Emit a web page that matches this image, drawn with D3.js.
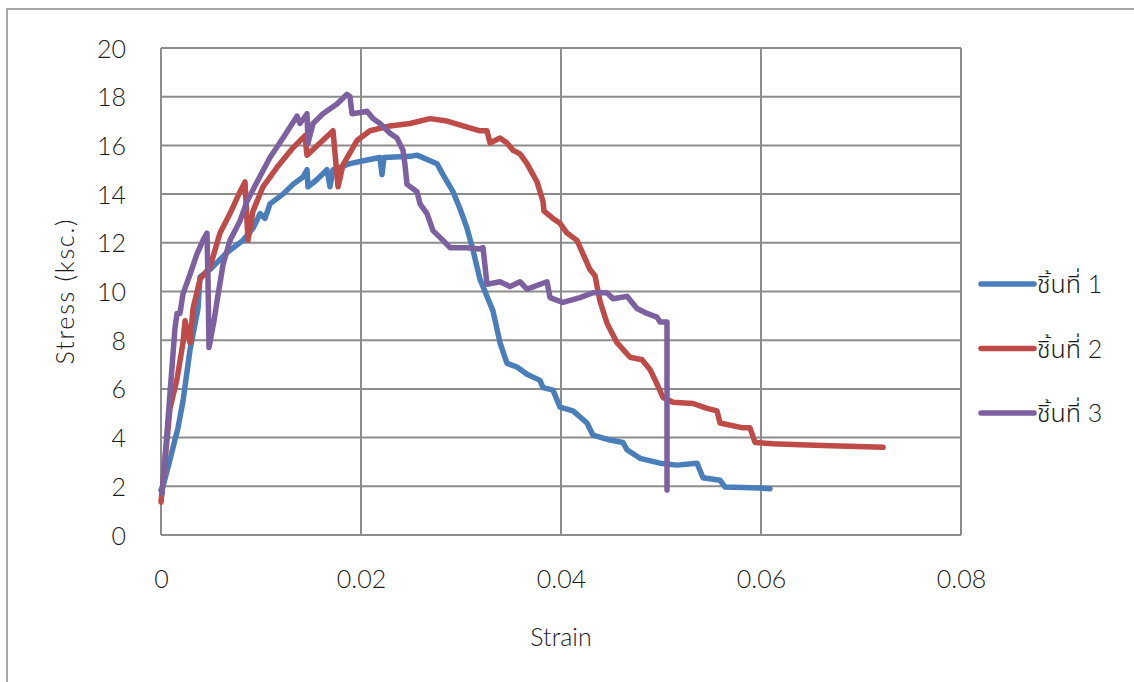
<!DOCTYPE html>
<html>
<head>
<meta charset="utf-8">
<script src="https://cdn.jsdelivr.net/npm/d3@7/dist/d3.min.js"></script>
<style>
  html, body { margin: 0; padding: 0; background: #fff; }
  svg { display: block; }
  text { font-family: "Lato", "Noto Sans Thai", "Noto Sans", sans-serif; font-weight: 300; fill: #1a1a1a; }
</style>
</head>
<body>
<svg id="chart" width="1134" height="682"></svg>
<script>
// Stress–strain curves for three specimens (strain, stress in ksc.)
const series1Strain = [0,0.0002,0.0009,0.0017,0.0022,0.0029,0.0037,0.0039,0.0049,0.0066,0.0082,0.0092,0.0099,0.0104,0.0109,0.0122,0.0132,0.0142,0.0146,0.0147,0.0156,0.0166,0.0169,0.0172,0.0189,0.0206,0.0219,0.0221,0.0223,0.0249,0.0256,0.0276,0.0282,0.0292,0.0299,0.0306,0.0312,0.0319,0.0322,0.0332,0.0339,0.0346,0.0356,0.0366,0.0379,0.0382,0.0392,0.0399,0.0412,0.0426,0.0432,0.0449,0.0462,0.0466,0.0479,0.0499,0.0516,0.0536,0.0542,0.0559,0.0564,0.0599,0.0609];
const series1Stress = [1.85,2.0,3.1,4.4,5.5,7.6,9.3,10.6,10.9,11.6,12.1,12.6,13.2,13.0,13.6,14.0,14.4,14.7,15.0,14.3,14.6,15.0,14.3,15.0,15.25,15.4,15.5,14.8,15.5,15.55,15.6,15.25,14.8,14.1,13.4,12.6,11.7,10.5,10.2,9.2,7.9,7.05,6.9,6.6,6.35,6.05,5.95,5.25,5.1,4.6,4.1,3.9,3.8,3.5,3.15,2.95,2.87,2.95,2.35,2.25,1.97,1.93,1.9];

const series2Strain = [0,0.0009,0.0016,0.0022,0.0024,0.0029,0.0032,0.0039,0.0049,0.0059,0.0069,0.0079,0.0084,0.0087,0.0092,0.0102,0.0116,0.0132,0.0144,0.0146,0.0159,0.0172,0.0177,0.0182,0.0196,0.0209,0.0229,0.0249,0.0269,0.0286,0.0302,0.0319,0.0326,0.0329,0.0339,0.0346,0.0352,0.0359,0.0366,0.0376,0.0382,0.0383,0.0392,0.0399,0.0406,0.0416,0.0422,0.0429,0.0434,0.0439,0.0446,0.0456,0.0469,0.0481,0.0489,0.0496,0.0502,0.0512,0.0532,0.0546,0.0556,0.0559,0.0582,0.0589,0.0594,0.0612,0.0646,0.0679,0.0722];
const series2Stress = [1.35,5.2,6.4,7.9,8.8,7.9,9.3,10.5,11.0,12.4,13.2,14.1,14.5,12.1,13.3,14.3,15.1,15.9,16.4,15.6,16.1,16.6,14.3,15.2,16.2,16.6,16.8,16.9,17.1,17.0,16.8,16.6,16.6,16.1,16.3,16.1,15.8,15.65,15.25,14.5,13.7,13.3,13.0,12.8,12.4,12.1,11.55,10.9,10.65,9.6,8.7,7.9,7.3,7.2,6.8,6.2,5.65,5.45,5.4,5.2,5.1,4.6,4.4,4.4,3.8,3.75,3.7,3.65,3.6];

const series3Strain = [0.0001,0.0006,0.0011,0.0014,0.0016,0.0019,0.0022,0.0029,0.0036,0.0042,0.0046,0.0047,0.0048,0.0053,0.0056,0.0062,0.0069,0.0079,0.0086,0.0096,0.0109,0.0122,0.0136,0.0139,0.0146,0.0147,0.0152,0.0162,0.0176,0.0186,0.0189,0.0191,0.0199,0.0206,0.0212,0.0219,0.0229,0.0236,0.0242,0.0244,0.0246,0.0256,0.0259,0.0266,0.0272,0.0282,0.0289,0.0306,0.0319,0.0322,0.0326,0.0339,0.0349,0.0359,0.0366,0.0386,0.0389,0.0402,0.0419,0.0432,0.0446,0.0452,0.0466,0.0476,0.0486,0.0496,0.0499,0.0506,0.0506];
const series3Stress = [1.7,4.2,6.9,8.5,9.1,9.1,9.9,10.7,11.55,12.1,12.4,10.5,7.7,8.8,9.6,11.1,12.1,12.9,13.7,14.5,15.5,16.3,17.2,16.9,17.3,16.1,16.9,17.3,17.7,18.1,18.0,17.3,17.35,17.4,17.1,16.9,16.5,16.3,15.8,15.2,14.4,14.1,13.6,13.2,12.5,12.1,11.8,11.8,11.75,11.8,10.3,10.4,10.2,10.4,10.1,10.4,9.75,9.55,9.75,9.95,9.95,9.7,9.8,9.3,9.1,8.95,8.75,8.75,1.85];

const seriesNames = ["ชิ้นที่ 1", "ชิ้นที่ 2", "ชิ้นที่ 3"];
const seriesColors = ["#4a7ebb", "#be4b48", "#7d60a0"];
const xTicks = [0, 0.02, 0.04, 0.06, 0.08];
const yTicks = [0, 2, 4, 6, 8, 10, 12, 14, 16, 18, 20];
const xTitle = "Strain";
const yTitle = "Stress (ksc.)";

const series = [
  {name: seriesNames[0], color: seriesColors[0], xs: series1Strain, ys: series1Stress},
  {name: seriesNames[1], color: seriesColors[1], xs: series2Strain, ys: series2Stress},
  {name: seriesNames[2], color: seriesColors[2], xs: series3Strain, ys: series3Stress}
];

const svg = d3.select("#chart");
const plotLeft = 161, plotRight = 961, plotTop = 48, plotBottom = 535;
const x = d3.scaleLinear().domain([0, 0.08]).range([plotLeft, plotRight]);
const y = d3.scaleLinear().domain([0, 20]).range([plotBottom, plotTop]);
const gridColor = "#8c8c8c";
const labelSize = 25;

// Outer frame
svg.append("rect").attr("x", 7).attr("y", 9).attr("width", 1140).attr("height", 700)
  .attr("fill", "none").attr("stroke", gridColor).attr("stroke-width", 1.5);

// Gridlines
svg.append("g").selectAll("line").data(yTicks).join("line")
  .attr("x1", plotLeft).attr("x2", plotRight)
  .attr("y1", d => y(d)).attr("y2", d => y(d))
  .attr("stroke", gridColor).attr("stroke-width", 2);
svg.append("g").selectAll("line").data(xTicks).join("line")
  .attr("x1", d => x(d)).attr("x2", d => x(d))
  .attr("y1", plotTop).attr("y2", plotBottom)
  .attr("stroke", gridColor).attr("stroke-width", 2);

// Axes (labels only; lines come from the grid)
const yAxis = d3.axisLeft(y).tickValues(yTicks).tickSize(0).tickPadding(0).tickFormat(d3.format("d"));
const gy = svg.append("g").attr("transform", `translate(126,0)`).call(yAxis);
gy.select(".domain").remove();
gy.selectAll("text").attr("font-size", labelSize).attr("dy", "0.36em").style("font-family", null);

const xAxis = d3.axisBottom(x).tickValues(xTicks).tickSize(0).tickPadding(0).tickFormat(d => d === 0 ? "0" : d3.format(".2f")(d));
const gx = svg.append("g").attr("transform", `translate(0,579)`).call(xAxis);
gx.select(".domain").remove();
gx.selectAll("text").attr("font-size", labelSize).attr("dy", "0.36em").style("font-family", null);

// Axis titles
svg.append("text").attr("x", 561).attr("y", 637).attr("dy", "0.36em")
  .attr("text-anchor", "middle").attr("font-size", labelSize).text(xTitle);
svg.append("text").attr("transform", "translate(65,292) rotate(-90)").attr("dy", "0.36em")
  .attr("text-anchor", "middle").attr("font-size", labelSize)
  .attr("textLength", 145).attr("lengthAdjust", "spacing").text(yTitle);

// Curves
const line = d3.line().x(d => x(d[0])).y(d => y(d[1]));
svg.append("g").selectAll("path").data(series).join("path")
  .attr("d", s => line(d3.zip(s.xs, s.ys)))
  .attr("fill", "none").attr("stroke", s => s.color)
  .attr("stroke-width", 5.5).attr("stroke-linejoin", "round").attr("stroke-linecap", "round");

// Legend
const legend = svg.append("g").selectAll("g").data(series).join("g")
  .attr("transform", (s, i) => `translate(979,${284 + i * 64.5})`);
legend.append("line").attr("x1", 2).attr("x2", 55).attr("y1", 0).attr("y2", 0)
  .attr("stroke", s => s.color).attr("stroke-width", 5.5).attr("stroke-linecap", "round");
legend.append("text").attr("x", 58).attr("dy", "0.36em").attr("font-size", labelSize).text(s => s.name);
</script>
</body>
</html>
